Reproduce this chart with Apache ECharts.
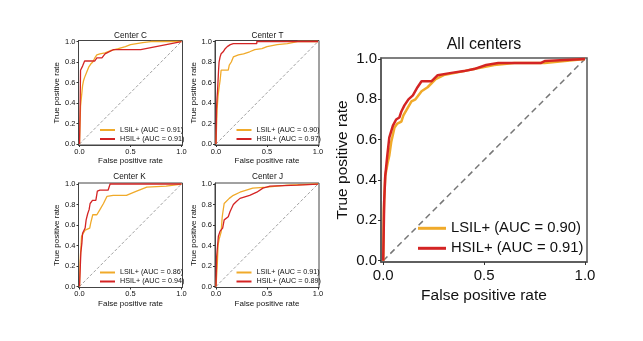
<!DOCTYPE html>
<html><head><meta charset="utf-8">
<script src="https://cdn.jsdelivr.net/npm/echarts@6/dist/echarts.min.js"></script>
<style>html,body{margin:0;padding:0;background:#fff}#c{width:643px;height:341px}</style>
</head><body><div id="c"></div>
<script>
// ROC curves: [false positive rate, true positive rate]
var centerC_LSIL = [[0,0],[0.01,0],[0.01,0.37],[0.025,0.37],[0.03,0.57],[0.04,0.62],[0.05,0.65],[0.07,0.70],[0.09,0.75],[0.11,0.78],[0.13,0.80],[0.15,0.84],[0.17,0.87],[0.2,0.88],[0.25,0.89],[0.3,0.91],[0.38,0.93],[0.45,0.95],[0.5,0.97],[0.56,0.98],[0.62,0.99],[0.7,1.0],[1,1]];
var centerC_HSIL = [[0,0],[0.005,0],[0.005,0.3],[0.01,0.72],[0.03,0.76],[0.05,0.81],[0.15,0.81],[0.17,0.84],[0.22,0.84],[0.25,0.88],[0.33,0.92],[0.6,0.92],[0.8,0.96],[1,1]];
var centerT_LSIL = [[0,0],[0.01,0],[0.01,0.33],[0.02,0.47],[0.03,0.55],[0.04,0.62],[0.05,0.72],[0.12,0.72],[0.13,0.77],[0.15,0.80],[0.17,0.85],[0.22,0.87],[0.27,0.88],[0.33,0.90],[0.38,0.92],[0.45,0.93],[0.5,0.95],[0.6,0.97],[0.7,0.98],[0.8,1.0],[1,1]];
var centerT_HSIL = [[0,0],[0.005,0],[0.005,0.35],[0.01,0.45],[0.015,0.52],[0.02,0.62],[0.025,0.72],[0.03,0.8],[0.04,0.85],[0.05,0.88],[0.07,0.9],[0.09,0.93],[0.11,0.95],[0.14,0.97],[0.17,0.98],[0.4,0.98],[0.4,1],[1,1]];
var centerK_LSIL = [[0,0],[0.005,0],[0.005,0.23],[0.02,0.49],[0.055,0.55],[0.1,0.57],[0.11,0.62],[0.13,0.70],[0.17,0.70],[0.2,0.75],[0.235,0.81],[0.27,0.88],[0.33,0.89],[0.46,0.89],[0.56,0.93],[0.66,0.97],[0.85,0.98],[1,1]];
var centerK_HSIL = [[0,0],[0.005,0],[0.013,0.33],[0.023,0.42],[0.03,0.52],[0.055,0.57],[0.065,0.65],[0.08,0.71],[0.094,0.75],[0.104,0.81],[0.127,0.84],[0.16,0.84],[0.175,0.93],[0.2,0.94],[0.28,0.94],[0.3,1.0],[1,1]];
var centerJ_LSIL = [[0,0],[0.01,0],[0.013,0.23],[0.02,0.4],[0.03,0.46],[0.05,0.53],[0.06,0.67],[0.065,0.71],[0.08,0.81],[0.13,0.86],[0.17,0.89],[0.235,0.92],[0.36,0.96],[0.5,0.97],[0.7,0.99],[1,1]];
var centerJ_HSIL = [[0,0],[0.005,0],[0.006,0.29],[0.023,0.49],[0.04,0.54],[0.065,0.57],[0.08,0.65],[0.12,0.68],[0.137,0.73],[0.17,0.8],[0.2,0.83],[0.235,0.86],[0.33,0.89],[0.4,0.92],[0.46,0.96],[0.53,0.98],[0.8,0.99],[1,1]];
var all_LSIL = [[0,0],[0.003,0],[0.003,0.25],[0.01,0.42],[0.023,0.49],[0.03,0.52],[0.04,0.59],[0.056,0.66],[0.07,0.68],[0.09,0.69],[0.1,0.72],[0.12,0.755],[0.14,0.79],[0.16,0.8],[0.19,0.84],[0.22,0.86],[0.26,0.9],[0.3,0.92],[0.35,0.93],[0.4,0.94],[0.45,0.95],[0.5,0.96],[0.55,0.97],[0.65,0.98],[0.8,0.98],[0.9,0.99],[1,1]];
var all_HSIL = [[0,0],[0.005,0],[0.005,0.3],[0.01,0.42],[0.02,0.52],[0.03,0.61],[0.048,0.67],[0.064,0.70],[0.08,0.71],[0.09,0.74],[0.105,0.77],[0.125,0.80],[0.147,0.82],[0.17,0.86],[0.19,0.89],[0.24,0.89],[0.26,0.91],[0.27,0.92],[0.33,0.93],[0.4,0.94],[0.45,0.95],[0.51,0.97],[0.57,0.98],[0.78,0.98],[0.8,0.99],[1,1]];
var chance = [[0,0],[1,1]];

var titles = ['Center C','Center T','Center K','Center J','All centers'];
var lsilNames = ['LSIL+ (AUC = 0.91)','LSIL+ (AUC = 0.90)','LSIL+ (AUC = 0.86)','LSIL+ (AUC = 0.91)','LSIL+ (AUC = 0.90)'];
var hsilNames = ['HSIL+ (AUC = 0.91)','HSIL+ (AUC = 0.97)','HSIL+ (AUC = 0.94)','HSIL+ (AUC = 0.89)','HSIL+ (AUC = 0.91)'];
var xTicks = [0, 0.5, 1];
var yTicks = [0, 0.2, 0.4, 0.6, 0.8, 1];
var lsilData = [centerC_LSIL, centerT_LSIL, centerK_LSIL, centerJ_LSIL, all_LSIL];
var hsilData = [centerC_HSIL, centerT_HSIL, centerK_HSIL, centerJ_HSIL, all_HSIL];

var ORANGE = '#f0aa2a', RED = '#d42424';
var FONT = 'Liberation Sans, Arial, sans-serif';

var panels = [
  {left:78.5, top:40.5, w:104, h:104.5, big:false},
  {left:215, top:40.5, w:104, h:104.5, big:false},
  {left:78.5, top:183, w:104, h:104.5, big:false},
  {left:215, top:183, w:104, h:104.5, big:false},
  {left:381, top:58, w:206, h:204, big:true}
];

var grid=[], xAxis=[], yAxis=[], series=[], legend=[], graphic=[];
panels.forEach(function(p, i){
  var b = p.big;
  grid.push({left:p.left, top:p.top, width:p.w, height:p.h, show:true, borderColor: b?'#555':'#444', borderWidth: b?1.5:1, backgroundColor:'#fff'});
  var tickFont = b?15:7.5, nameFont = b?15.5:8;
  xAxis.push({type:'value', gridIndex:i, min: b?-0.011:-0.01, max: 1.01,
    splitLine:{show:false},
    axisLine:{show:true, onZero:false, lineStyle:{color: b?'#555':'#444', width: b?1.5:1}},
    axisTick:{show:true, customValues:xTicks, length: b?3:2, lineStyle:{color:'#333'}},
    axisLabel:{customValues:xTicks, formatter:function(v){return v.toFixed(1);}, fontSize:tickFont, color:'#111', fontFamily:FONT, margin: b?6:2.5},
    name:'False positive rate', nameLocation:'middle', nameGap: b?24:12,
    nameTextStyle:{fontSize:nameFont, color:'#111', fontFamily:FONT}
  });
  yAxis.push({type:'value', gridIndex:i, min: b?-0.0065:-0.01, max: b?1.005:1.01,
    splitLine:{show:false},
    axisLine:{show:true, onZero:false, lineStyle:{color: b?'#555':'#444', width: b?1.5:1}},
    axisTick:{show:true, customValues:yTicks, length: b?3:2, lineStyle:{color:'#333'}},
    axisLabel:{customValues:yTicks, formatter:function(v){return v.toFixed(1);}, fontSize:tickFont, color:'#111', fontFamily:FONT, margin: b?4:3},
    name:'True positive rate', nameLocation:'middle', nameGap: b?30:15.5,
    nameTextStyle:{fontSize:nameFont, color:'#111', fontFamily:FONT}
  });
  series.push({type:'line', xAxisIndex:i, yAxisIndex:i, data:chance, symbol:'none', silent:true,
    lineStyle:{color:'#777', width: b?1.5:0.7, type:[b?6:3, b?4:2]}, z:1});
  series.push({type:'line', name:lsilNames[i], xAxisIndex:i, yAxisIndex:i, data:lsilData[i], symbol:'none',
    color:ORANGE, lineStyle:{color:ORANGE, width: b?2.5:1.3}, z:2});
  series.push({type:'line', name:hsilNames[i], xAxisIndex:i, yAxisIndex:i, data:hsilData[i], symbol:'none',
    color:RED, lineStyle:{color:RED, width: b?2.5:1.3}, z:3});
  legend.push({
    orient:'vertical', left: p.left + (b?32:16.5), top: b?215.8:(p.top + 80.5),
    icon:'rect', itemWidth: b?28:15, itemHeight: b?3:2, itemGap: b?5:1, itemTextGap: b?8:3,
    selectedMode:false,
    textStyle:{fontSize: b?14.8:7.2, lineHeight: b?15:8, color:'#111', fontFamily:FONT},
    data:[{name:lsilNames[i], itemStyle:{color:ORANGE}}, {name:hsilNames[i], itemStyle:{color:RED}}]
  });
});

var titlePos = [[130.5,36],[267.5,36],[129.5,177],[267.5,177],[484,45]];
titles.forEach(function(t, i){
  var b = i === 4;
  graphic.push({type:'text', x:titlePos[i][0], y:titlePos[i][1], silent:true,
    style:{text:t, fill:'#111', font:(b?'16px ':'8.2px ') + FONT, textAlign:'center', textVerticalAlign:'middle'}});
});

var chart = echarts.init(document.getElementById('c'), null, {renderer:'canvas'});
chart.setOption({
  backgroundColor:'#fff', animation:false,
  grid:grid, xAxis:xAxis, yAxis:yAxis, series:series, legend:legend, graphic:graphic
});
</script></body></html>
